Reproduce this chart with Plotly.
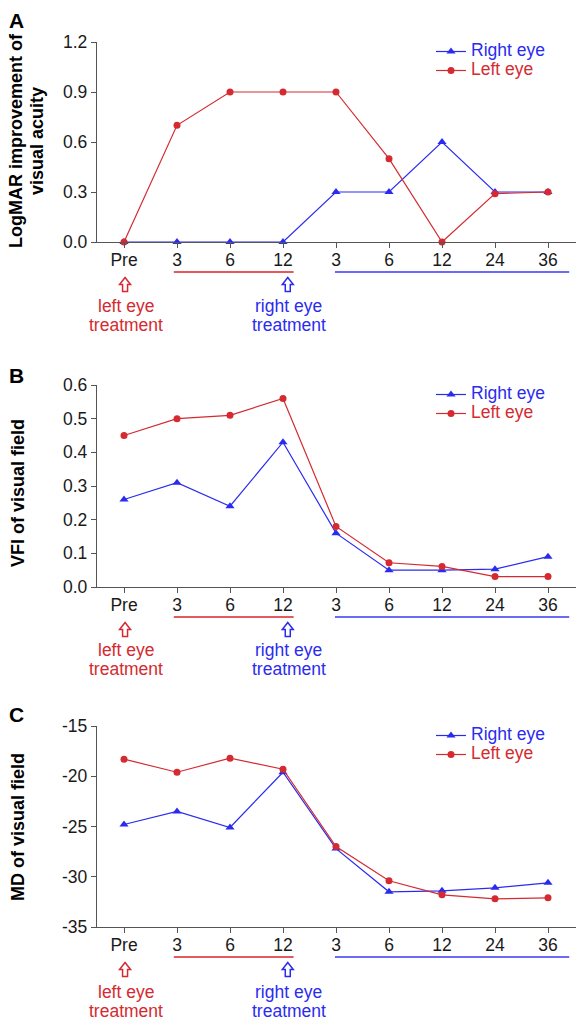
import plotly.graph_objects as go

# Follow-up time points (months); first block after left-eye treatment, second after right-eye treatment
time_labels = ["Pre", "3", "6", "12", "3", "6", "12", "24", "36"]

# Panel A: LogMAR improvement of visual acuity
logmar_right = [0.0, 0.0, 0.0, 0.0, 0.3, 0.3, 0.6, 0.3, 0.3]
logmar_left = [0.0, 0.7, 0.9, 0.9, 0.9, 0.5, 0.0, 0.29, 0.3]
logmar_ticks = [0.0, 0.3, 0.6, 0.9, 1.2]

# Panel B: VFI of visual field
vfi_right = [0.26, 0.31, 0.24, 0.43, 0.16, 0.05, 0.05, 0.053, 0.09]
vfi_left = [0.45, 0.50, 0.51, 0.56, 0.18, 0.072, 0.061, 0.031, 0.031]
vfi_ticks = [0.0, 0.1, 0.2, 0.3, 0.4, 0.5, 0.6]

# Panel C: MD of visual field
md_right = [-24.8, -23.5, -25.1, -19.6, -27.2, -31.5, -31.4, -31.1, -30.6]
md_left = [-18.3, -19.6, -18.2, -19.3, -27.0, -30.4, -31.8, -32.2, -32.1]
md_ticks = [-35, -30, -25, -20, -15]

BLUE = "#2b2bf0"
RED = "#d42a30"
BLUE_LIGHT = "#6a6af2"
RED_LIGHT = "#e25a5e"
AXIS = "#555555"
TEXT = "#1a1a1a"
FONT = "Liberation Sans, Arial, sans-serif"
TICK_SIZE = 17.5

W, H = 576, 1024
x_idx = list(range(len(time_labels)))

panels = [
    dict(letter="A", right=logmar_right, left=logmar_left, top=42, bottom=242,
         ticks=logmar_ticks, fmt="{:.1f}", letter_y=20,
         titles=[("LogMAR improvement of", 16), ("visual acuity", 37)], title_y=141,
         label_dy=64),
    dict(letter="B", right=vfi_right, left=vfi_left, top=385, bottom=587,
         ticks=vfi_ticks, fmt="{:.1f}", letter_y=375,
         titles=[("VFI of visual field", 18)], title_y=493,
         label_dy=63),
    dict(letter="C", right=md_right, left=md_left, top=726, bottom=927,
         ticks=md_ticks, fmt="{:d}", letter_y=714,
         titles=[("MD of visual field", 18)], title_y=827,
         label_dy=65),
]

fig = go.Figure()
layout = dict(
    width=W, height=H,
    margin=dict(l=0, r=0, t=0, b=0, pad=0, autoexpand=False),
    paper_bgcolor="white", plot_bgcolor="white",
    font=dict(family=FONT, size=16, color=TEXT),
    showlegend=True,
)
annotations = []
shapes = []

x_left_px, x_right_px = 97, 576
step_px = 53.0
pre_px = 124
x_range = [(x_left_px - pre_px) / step_px, (x_right_px - pre_px) / step_px]


def py(px):
    return 1 - px / H


def legend_label(text, color):
    return '<span style="font-size:17.5px;color:%s">%s</span>' % (color, text)


# Hollow upward arrow outline (pixels, relative to its anchor)
ARROW_PATH = "M0,7 L5.5,0 L2.5,0 L2.5,-7 L-2.5,-7 L-2.5,0 L-5.5,0 Z"

for i, p in enumerate(panels):
    n = "" if i == 0 else str(i + 1)
    xa, ya = "x" + n, "y" + n
    leg = "legend" + n

    fig.add_trace(go.Scatter(
        x=x_idx, y=p["right"], mode="lines+markers",
        name=legend_label("Right eye", BLUE),
        xaxis=xa, yaxis=ya, legend=leg, cliponaxis=False,
        line=dict(color=BLUE, width=1.2),
        marker=dict(symbol="triangle-up", size=8, color=BLUE),
    ))
    fig.add_trace(go.Scatter(
        x=x_idx, y=p["left"], mode="lines+markers",
        name=legend_label("Left eye", RED),
        xaxis=xa, yaxis=ya, legend=leg, cliponaxis=False,
        line=dict(color=RED, width=1.2),
        marker=dict(symbol="circle", size=7, color=RED),
    ))

    layout["xaxis" + n] = dict(
        domain=[x_left_px / W, 1], anchor=ya, range=x_range,
        tickmode="array", tickvals=x_idx, ticktext=time_labels,
        showline=True, linecolor=AXIS, linewidth=1.3,
        ticks="outside", ticklen=5, tickcolor=AXIS, tickwidth=1.3,
        ticklabelstandoff=-3, automargin=False,
        showgrid=False, zeroline=False, fixedrange=True,
        tickfont=dict(size=TICK_SIZE, color=TEXT),
    )
    layout["yaxis" + n] = dict(
        domain=[py(p["bottom"]), py(p["top"])], anchor=xa,
        range=[p["ticks"][0], p["ticks"][-1]],
        tickmode="array", tickvals=p["ticks"],
        ticktext=[p["fmt"].format(v) for v in p["ticks"]],
        showline=True, linecolor=AXIS, linewidth=1.3,
        ticks="outside", ticklen=5, tickcolor=AXIS, tickwidth=1.3,
        automargin=False,
        showgrid=False, zeroline=False, fixedrange=True,
        tickfont=dict(size=TICK_SIZE, color=TEXT),
    )
    layout[leg] = dict(
        x=431 / W, y=py(p["top"] - 5), xanchor="left", yanchor="top",
        bgcolor="rgba(0,0,0,0)", font=dict(size=12), tracegroupgap=0,
        itemwidth=30,
    )

    # Panel letter and y-axis title
    annotations.append(dict(
        text="<b>%s</b>" % p["letter"], xref="paper", yref="paper",
        x=7 / W, y=py(p["letter_y"]), xanchor="left", yanchor="middle",
        showarrow=False, font=dict(size=21, color="black"),
    ))
    for title, tx in p["titles"]:
        annotations.append(dict(
            text="<b>%s</b>" % title, xref="paper", yref="paper",
            x=tx / W, y=py(p["title_y"]),
            xanchor="center", yanchor="middle", textangle=-90,
            showarrow=False, font=dict(size=18, color="black"),
        ))

    # Follow-up period underlines
    ul_y = py(p["bottom"] + 30)
    shapes.append(dict(type="line", xref=xa, yref="paper",
                       x0=0.94, x1=3.2, y0=ul_y, y1=ul_y,
                       line=dict(color=RED_LIGHT, width=2)))
    shapes.append(dict(type="line", xref=xa, yref="paper",
                       x0=3.98, x1=8.4, y0=ul_y, y1=ul_y,
                       line=dict(color=BLUE_LIGHT, width=2)))

    # Treatment markers: hollow arrow plus two-line caption
    arrow_y = py(p["bottom"] + 42.5)
    for xi, col, word in [(0.02, RED, "left eye"), (3.09, BLUE, "right eye")]:
        shapes.append(dict(
            type="path", xref=xa, yref="paper",
            xsizemode="pixel", ysizemode="pixel",
            xanchor=xi, yanchor=arrow_y, path=ARROW_PATH,
            line=dict(color=col, width=1.5), fillcolor="white",
        ))
        for text, dy in [(word, p["label_dy"]), ("treatment", p["label_dy"] + 19)]:
            annotations.append(dict(
                text=text, xref=xa, yref="paper", x=xi + 0.02,
                y=py(p["bottom"] + dy),
                xanchor="center", yanchor="middle", showarrow=False,
                font=dict(size=TICK_SIZE, color=col),
            ))

layout["annotations"] = annotations
layout["shapes"] = shapes
fig.update_layout(**layout)

fig.write_html("out.html")
